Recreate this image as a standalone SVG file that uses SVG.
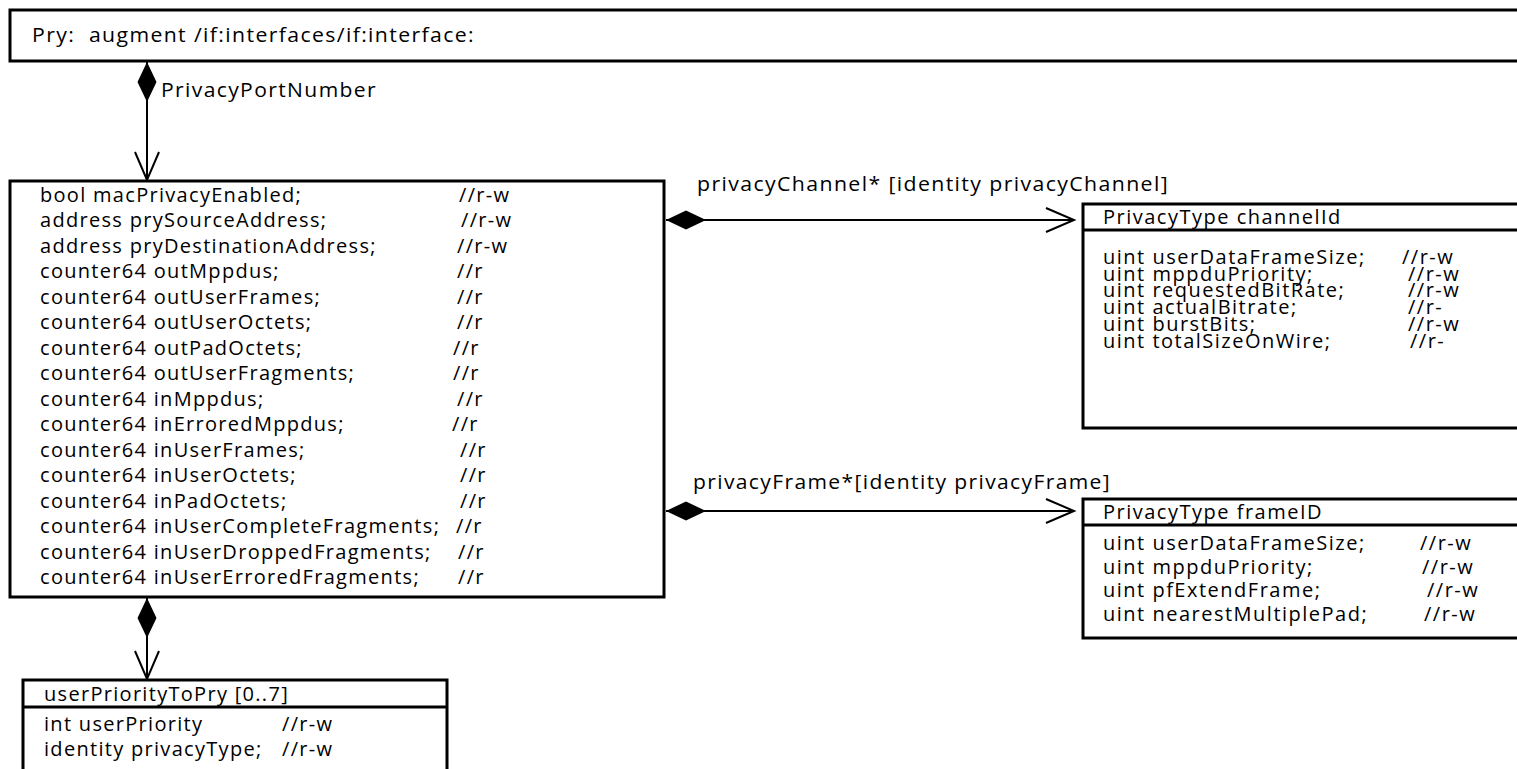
<svg xmlns="http://www.w3.org/2000/svg" width="1517" height="769" viewBox="0 0 1517 769">
<style>
.box{fill:#fff;stroke:#000;stroke-width:3}
.div{stroke:#000;stroke-width:3}
.t{font-family:"Open Sans","Noto Sans",sans-serif;fill:#000;font-size:20px;letter-spacing:1.3px;white-space:pre}
.r{letter-spacing:1.5px}
.con{fill:none;stroke:#000;stroke-width:2;marker-start:url(#dia);marker-end:url(#arr)}
</style>
<defs>
<marker id="dia" markerUnits="userSpaceOnUse" markerWidth="60" markerHeight="30" refX="0" refY="15" orient="auto" viewBox="0 0 60 30" overflow="visible">
<path d="M0,15 L20,5.5 L40,15 L20,24.5 Z" fill="#000"/>
</marker>
<marker id="arr" markerUnits="userSpaceOnUse" markerWidth="40" markerHeight="40" refX="36" refY="20" orient="auto" viewBox="0 0 40 40" overflow="visible">
<path d="M8,8 L36,20 L8,32" fill="none" stroke="#000" stroke-width="2"/>
</marker>
</defs>

<g id="connectors">
<line class="con" x1="147" y1="62" x2="147" y2="180"/>
<line class="con" x1="147" y1="598" x2="147" y2="679"/>
<line class="con" x1="666" y1="220" x2="1074" y2="220"/>
<line class="con" x1="666" y1="511" x2="1074" y2="511"/>
<text class="t" x="161" y="97" textLength="216" lengthAdjust="spacingAndGlyphs">PrivacyPortNumber</text>
<text class="t" x="697" y="191" textLength="472" lengthAdjust="spacingAndGlyphs">privacyChannel* [identity privacyChannel]</text>
<text class="t" x="693" y="489" textLength="418" lengthAdjust="spacingAndGlyphs">privacyFrame*[identity privacyFrame]</text>
</g>

<g id="pry">
<rect class="box" x="10" y="10" width="1530" height="51"/>
<text class="t" x="32" y="42" textLength="443" lengthAdjust="spacingAndGlyphs">Pry:  augment /if:interfaces/if:interface:</text>
</g>

<g id="port">
<rect class="box" x="10" y="181" width="654" height="416"/>
<g class="t">
<text x="40" y="202">bool macPrivacyEnabled;</text><text x="459" y="202">//r-w</text>
<text x="40" y="227">address prySourceAddress;</text><text x="461" y="227">//r-w</text>
<text x="40" y="253">address pryDestinationAddress;</text><text x="457" y="253">//r-w</text>
<text x="40" y="278">counter64 outMppdus;</text><text x="457" y="278">//r</text>
<text x="40" y="304">counter64 outUserFrames;</text><text x="457" y="304">//r</text>
<text x="40" y="329">counter64 outUserOctets;</text><text x="457" y="329">//r</text>
<text x="40" y="355">counter64 outPadOctets;</text><text x="453" y="355">//r</text>
<text x="40" y="380">counter64 outUserFragments;</text><text x="453" y="380">//r</text>
<text x="40" y="406">counter64 inMppdus;</text><text x="457" y="406">//r</text>
<text x="40" y="431">counter64 inErroredMppdus;</text><text x="452" y="431">//r</text>
<text x="40" y="457">counter64 inUserFrames;</text><text x="460" y="457">//r</text>
<text x="40" y="482">counter64 inUserOctets;</text><text x="460" y="482">//r</text>
<text x="40" y="508">counter64 inPadOctets;</text><text x="460" y="508">//r</text>
<text x="40" y="533">counter64 inUserCompleteFragments;</text><text x="456" y="533">//r</text>
<text x="40" y="559">counter64 inUserDroppedFragments;</text><text x="458" y="559">//r</text>
<text x="40" y="584">counter64 inUserErroredFragments;</text><text x="458" y="584">//r</text>
</g>
</g>

<g id="channel">
<rect class="box" x="1083" y="204" width="460" height="224"/>
<line class="div" x1="1083" y1="230" x2="1517" y2="230"/>
<g class="t r">
<text x="1103" y="224">PrivacyType channelId</text>
<text x="1103" y="264">uint userDataFrameSize;</text><text x="1402" y="264">//r-w</text>
<text x="1103" y="280.7">uint mppduPriority;</text><text x="1408" y="280.7">//r-w</text>
<text x="1103" y="297.4">uint requestedBitRate;</text><text x="1408" y="297.4">//r-w</text>
<text x="1103" y="314.1">uint actualBitrate;</text><text x="1408" y="314.1">//r-</text>
<text x="1103" y="330.8">uint burstBits;</text><text x="1408" y="330.8">//r-w</text>
<text x="1103" y="347.5">uint totalSizeOnWire;</text><text x="1410" y="347.5">//r-</text>
</g>
</g>

<g id="frame">
<rect class="box" x="1083" y="499" width="460" height="139"/>
<line class="div" x1="1083" y1="525" x2="1517" y2="525"/>
<g class="t r">
<text x="1103" y="519">PrivacyType frameID</text>
<text x="1103" y="550">uint  userDataFrameSize;</text><text x="1420" y="550">//r-w</text>
<text x="1103" y="573.5">uint  mppduPriority;</text><text x="1422" y="573.5">//r-w</text>
<text x="1103" y="597">uint pfExtendFrame;</text><text x="1427" y="597">//r-w</text>
<text x="1103" y="620.5">uint nearestMultiplePad;</text><text x="1424" y="620.5">//r-w</text>
</g>
</g>

<g id="userPriority">
<rect class="box" x="23" y="680" width="424" height="100"/>
<line class="div" x1="23" y1="707" x2="447" y2="707"/>
<g class="t">
<text x="44" y="701">userPriorityToPry [0..7]</text>
<text x="44" y="731">int userPriority</text><text x="282" y="731">//r-w</text>
<text x="44" y="756">identity privacyType;</text><text x="282" y="756">//r-w</text>
</g>
</g>
</svg>
